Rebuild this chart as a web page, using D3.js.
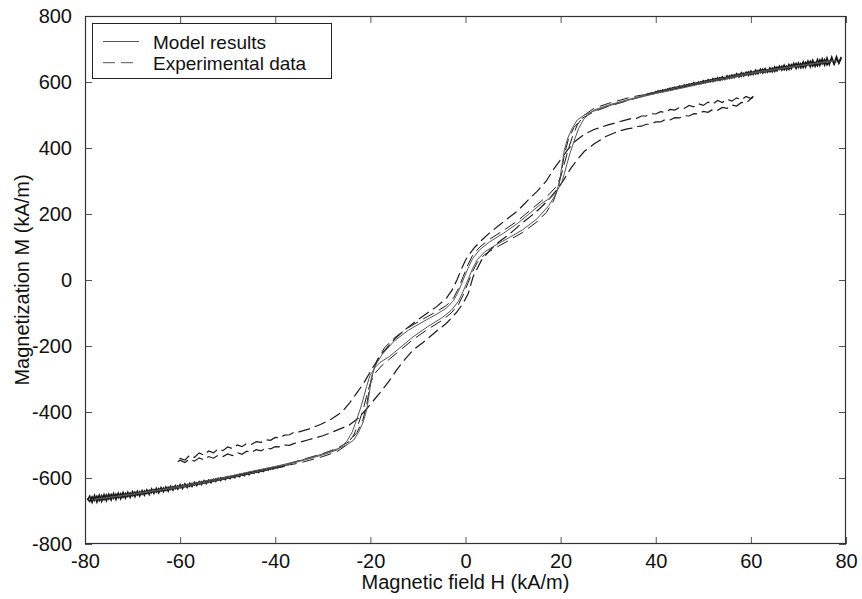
<!DOCTYPE html>
<html><head><meta charset="utf-8">
<script src="https://cdn.jsdelivr.net/npm/d3@7"></script>
<style>
html,body{margin:0;padding:0;background:#fff;}
svg text{font-family:"Liberation Sans",Arial,Helvetica,sans-serif;fill:#111;}
</style></head>
<body>
<svg id="chart" width="862" height="599"></svg>
<script>
// ---- tick labels ----
const xTicks = [-80,-60,-40,-20,0,20,40,60,80];
const yTicks = [-800,-600,-400,-200,0,200,400,600,800];

// ---- Model results (solid) ----
const modelDesc = [[78,665],[70,650],[60,628],[50,600],[45,585],[40,568],[35,550],[30,530],[27,515],[25,490],[23.8,460],[22.9,424],[22,385],[21.3,350],[20.8,323],[20.1,290],[19,265],[18,250],[16,232],[14,208],[11,172],[8,142],[5,115],[3,92],[1.5,65],[0.5,35],[-0.5,0],[-1.5,-35],[-2.5,-62],[-4,-85],[-6,-103],[-9,-127],[-12,-152],[-15,-185],[-17.5,-225],[-19,-260],[-19.8,-300],[-20.3,-350],[-20.8,-395],[-21.5,-430],[-22.5,-462],[-23.5,-485],[-25,-500],[-27,-512],[-30,-527],[-35,-548],[-40,-565],[-45,-580],[-50,-596],[-55,-610],[-60,-625],[-65,-637],[-70,-648],[-78,-665]];
const modelAsc = [[-78,-665],[-70,-650],[-60,-628],[-50,-600],[-45,-585],[-40,-568],[-35,-550],[-30,-530],[-27,-515],[-25,-490],[-23.8,-460],[-22.9,-424],[-22,-385],[-21.3,-350],[-20.8,-323],[-20.1,-290],[-19,-265],[-18,-250],[-16,-232],[-14,-208],[-11,-172],[-8,-142],[-5,-115],[-3,-92],[-1.5,-65],[-0.5,-35],[0.5,0],[1.5,35],[2.5,62],[4,85],[6,103],[9,127],[12,152],[15,185],[17.5,225],[19,260],[19.8,300],[20.3,350],[20.8,395],[21.5,430],[22.5,462],[23.5,485],[25,500],[27,512],[30,527],[35,548],[40,565],[45,580],[50,596],[55,610],[60,625],[65,637],[70,648],[78,665]];

// ---- Experimental data, major loop (noisy tails + dashed middle) ----
const majorDescHigh = [[79,676],[78.5,658],[78,669],[77.5,654],[77,670],[76.5,663],[76,652],[75.5,668],[75,655],[74.5,667],[74,649],[73.5,659],[73,648],[72.5,663],[72,651],[71.5,660],[71,644],[70.5,656],[70,644],[69.5,656],[69,646],[68.5,653],[68,638],[67.5,648],[67,637],[66.5,648],[66,638],[65.5,645],[65,632],[64.5,642],[64,631],[63.5,637],[63,629],[62.5,639],[62,628],[61.5,635],[61,624],[60.5,631],[60,622],[59.5,631],[59,621],[58.5,627],[58,617],[57.5,624],[57,617],[56.5,622],[56,612],[55.5,619],[55,610],[54.5,614],[54,607],[53.5,613],[53,605],[52.5,610],[52,601],[51.5,607],[51,601],[50.5,604],[50,597],[49.5,601],[49,594],[48.5,597],[48,591],[47.5,595],[47,589],[46.5,592],[46,585],[45.5,588],[45,582],[44.5,585],[44,580],[43.5,582],[43,576],[42.5,579],[42,573],[41.5,576],[41,570],[40.5,573],[40,568],[39,566],[38,562]];
const majorDescMid = [[37,560],[35,555],[30,535],[27,520],[25,500],[23.5,470],[22.5,435],[21.5,392],[20.8,352],[20,312],[19,282],[17.5,258],[16,240],[14,216],[11,180],[8,150],[5,123],[3,100],[1.5,75],[0.5,46],[-0.5,10],[-1.5,-26],[-2.5,-54],[-4,-77],[-6,-95],[-9,-119],[-12,-144],[-15,-176],[-17,-205],[-18.5,-240],[-19.5,-280],[-20.2,-330],[-20.8,-380],[-21.6,-425],[-22.8,-462],[-24.5,-490],[-27,-510],[-30,-526],[-34,-543],[-37,-556]];
const majorDescLow = [[-38,-563],[-38.5,-566],[-39,-564],[-39.5,-569],[-40,-567],[-40.5,-573],[-41,-570],[-41.5,-576],[-42,-573],[-42.5,-580],[-43,-576],[-43.5,-583],[-44,-579],[-44.5,-586],[-45,-582],[-45.5,-590],[-46,-585],[-46.5,-593],[-47,-588],[-47.5,-596],[-48,-591],[-48.5,-599],[-49,-594],[-49.5,-602],[-50,-596],[-50.5,-605],[-51,-599],[-51.5,-608],[-52,-601],[-52.5,-611],[-53,-604],[-53.5,-614],[-54,-606],[-54.5,-617],[-55,-608],[-55.5,-620],[-56,-611],[-56.5,-623],[-57,-613],[-57.5,-626],[-58,-616],[-58.5,-629],[-59,-618],[-59.5,-632],[-60,-620],[-60.5,-634],[-61,-623],[-61.5,-637],[-62,-625],[-62.5,-640],[-63,-627],[-63.5,-642],[-64,-629],[-64.5,-645],[-65,-631],[-65.5,-647],[-66,-633],[-66.5,-650],[-67,-636],[-67.5,-652],[-68,-638],[-68.5,-655],[-69,-640],[-69.5,-657],[-70,-641],[-70.5,-659],[-71,-643],[-71.5,-661],[-72,-644],[-72.5,-663],[-73,-646],[-73.5,-665],[-74,-647],[-74.5,-667],[-75,-649],[-75.5,-669],[-76,-650],[-76.5,-671],[-77,-652],[-77.5,-673],[-78,-653],[-78.5,-674],[-79,-655],[-79.5,-667]];
const majorAscLow = [[-79.5,-662],[-79,-671],[-78.5,-657],[-78,-668],[-77.5,-655],[-77,-669],[-76.5,-653],[-76,-666],[-75.5,-651],[-75,-664],[-74.5,-650],[-74,-662],[-73.5,-649],[-73,-660],[-72.5,-647],[-72,-659],[-71.5,-646],[-71,-656],[-70.5,-645],[-70,-654],[-69.5,-643],[-69,-652],[-68.5,-641],[-68,-650],[-67.5,-639],[-67,-647],[-66.5,-637],[-66,-645],[-65.5,-635],[-65,-643],[-64.5,-632],[-64,-640],[-63.5,-630],[-63,-638],[-62.5,-628],[-62,-635],[-61.5,-626],[-61,-632],[-60.5,-624],[-60,-630],[-59.5,-621],[-59,-627],[-58.5,-619],[-58,-625],[-57.5,-616],[-57,-622],[-56.5,-614],[-56,-619],[-55.5,-611],[-55,-616],[-54.5,-609],[-54,-613],[-53.5,-606],[-53,-610],[-52.5,-603],[-52,-607],[-51.5,-600],[-51,-604],[-50.5,-598],[-50,-601],[-49.5,-595],[-49,-598],[-48.5,-592],[-48,-595],[-47.5,-589],[-47,-592],[-46.5,-586],[-46,-589],[-45.5,-583],[-45,-586],[-44.5,-580],[-44,-583],[-43.5,-577],[-43,-580],[-42.5,-574],[-42,-577],[-41.5,-571],[-41,-573],[-40.5,-568],[-40,-570],[-39.5,-565],[-39,-567],[-38,-562]];
const majorAscMid = [[-37,-560],[-35,-555],[-30,-535],[-27,-520],[-25,-500],[-23.5,-470],[-22.5,-435],[-21.5,-392],[-20.8,-352],[-20,-312],[-19,-282],[-17.5,-258],[-16,-240],[-14,-216],[-11,-180],[-8,-150],[-5,-123],[-3,-100],[-1.5,-75],[-0.5,-46],[0.5,-10],[1.5,26],[2.5,54],[4,77],[6,95],[9,119],[12,144],[15,176],[17,205],[18.5,240],[19.5,280],[20.2,330],[20.8,380],[21.6,425],[22.8,462],[24.5,490],[27,510],[30,526],[34,543],[37,556]];
const majorAscHigh = [[38,561],[39,566],[39.5,565],[40,571],[40.5,569],[41,574],[41.5,571],[42,577],[42.5,575],[43,581],[43.5,578],[44,584],[44.5,581],[45,588],[45.5,584],[46,591],[46.5,587],[47,594],[47.5,590],[48,598],[48.5,593],[49,600],[49.5,595],[50,604],[50.5,598],[51,607],[51.5,601],[52,610],[52.5,604],[53,613],[53.5,605],[54,616],[54.5,608],[55,619],[55.5,611],[56,621],[56.5,613],[57,625],[57.5,615],[58,628],[58.5,618],[59,630],[59.5,620],[60,633],[60.5,623],[61,636],[61.5,625],[62,639],[62.5,627],[63,641],[63.5,630],[64,643],[64.5,631],[65,646],[65.5,634],[66,648],[66.5,636],[67,651],[67.5,637],[68,653],[68.5,640],[69,656],[69.5,641],[70,658],[70.5,643],[71,661],[71.5,645],[72,663],[72.5,646],[73,666],[73.5,648],[74,668],[74.5,650],[75,670],[75.5,651],[76,673],[76.5,653],[77,675],[77.5,655],[78,677],[78.5,657],[79,672]];

// ---- Experimental data, minor loop (dashed) ----
const minorDesc = [[60.5,557],[60,550],[59,556],[58,546],[57,552],[56,542],[55,548],[54,538],[53,544],[52,533],[51,539],[50,529],[49,534],[48,525],[47,529],[46,520],[45,523],[44,515],[43,517],[42,508],[41,510],[40,503],[39,504],[38,497],[37,497],[36,490],[35,490],
[33,482],[30,470],[27,456],[25,442],[23,420],[21.5,395],[20,365],[18.5,335],[17,300],[15,268],[13,240],[11,210],[9,188],[7,165],[5,142],[3.5,122],[2,100],[0.8,78],[0,60],[-0.8,35],[-1.8,0],[-2.8,-30],[-4,-55],[-6,-80],[-8,-100],[-10,-120],[-12.5,-148],[-15,-180],[-17.5,-222],[-19.5,-265],[-21.5,-315],[-23,-345],[-24.5,-375],[-26,-400],[-28,-420],[-30.5,-438],[-33,-452],[-35,-460],
[-36,-461],[-37,-469],[-38,-470],[-39,-478],[-40,-477],[-41,-486],[-42,-484],[-43,-492],[-44,-490],[-45,-498],[-46,-495],[-47,-505],[-48,-500],[-49,-511],[-50,-506],[-51,-517],[-52,-512],[-53,-524],[-54,-518],[-55,-531],[-56,-524],[-57,-538],[-58,-531],[-59,-546],[-60,-541],[-60.5,-551]];
const minorAsc = [[-60.5,-551],[-60,-546],[-59,-553],[-58,-543],[-57,-549],[-56,-539],[-55,-545],[-54,-535],[-53,-540],[-52,-531],[-51,-535],[-50,-527],[-49,-532],[-48,-523],[-47,-528],[-46,-519],[-45,-523],[-44,-514],[-43,-518],[-42,-509],[-41,-512],[-40,-505],[-39,-506],[-38,-500],[-37,-501],[-36,-495],[-35,-492],
[-33,-484],[-30,-472],[-27,-455],[-24.5,-440],[-22.5,-418],[-21,-394],[-19.5,-368],[-18,-342],[-16,-305],[-14.5,-273],[-13,-245],[-11,-212],[-9,-190],[-7.5,-172],[-5.5,-148],[-4,-131],[-2,-100],[-0.5,-71],[0.6,-40],[1.6,10],[3.4,61],[5.2,91],[7,115],[9.4,141],[11.5,168],[13.6,192],[15.5,215],[17.4,242],[19,270],[20.5,300],[22,335],[23.5,365],[25,390],[27,412],[29.5,435],[32,450],[34,458],
[35,460],[36,465],[37,466],[38,472],[39,472],[40,479],[41,479],[42,486],[43,485],[44,492],[45,491],[46,498],[47,497],[48,504],[49,503],[50,511],[51,508],[52,517],[53,514],[54,523],[55,520],[56,530],[57,527],[58,538],[59,536],[60,549],[60.5,554]];

const legendItems = ["Model results","Experimental data"];

// ---- layout ----
const L = 85, R = 846, T = 16, B = 544;
const svg = d3.select("#chart");
const x = d3.scaleLinear().domain([-80,80]).range([L,R]);
const y = d3.scaleLinear().domain([-800,800]).range([B,T]);
const tickLen = 7;
const fs = 20;
const fmt = d => String(d);

svg.append("rect").attr("x",L).attr("y",T).attr("width",R-L).attr("height",B-T).attr("fill","#fff");

const gx = svg.append("g").attr("transform",`translate(0,${B})`)
  .call(d3.axisBottom(x).tickValues(xTicks).tickSize(-tickLen).tickPadding(tickLen+3).tickFormat(fmt));
const gxt = svg.append("g").attr("transform",`translate(0,${T})`)
  .call(d3.axisTop(x).tickValues(xTicks).tickSize(-tickLen).tickFormat(""));
const gy = svg.append("g").attr("transform",`translate(${L},0)`)
  .call(d3.axisLeft(y).tickValues(yTicks).tickSize(-tickLen).tickPadding(tickLen+6).tickFormat(fmt));
const gyr = svg.append("g").attr("transform",`translate(${R},0)`)
  .call(d3.axisRight(y).tickValues(yTicks).tickSize(-tickLen).tickFormat(""));
[gx,gxt,gy,gyr].forEach(g=>{
  g.select(".domain").remove();
  g.selectAll(".tick line").attr("stroke","#555").attr("stroke-width",1);
  g.selectAll(".tick text").attr("font-size",fs).attr("fill","#111")
   .attr("font-family","Liberation Sans, Arial, sans-serif");
});

// data lines
const line = d3.line().x(d=>x(d[0])).y(d=>y(d[1]));
const plot = svg.append("g");
const expColor = "#1a1a1a";
// noisy saturated tails of the major loop (dense noise reads as a solid band)
[majorDescHigh,majorDescLow,majorAscLow,majorAscHigh].forEach(s=>{
  plot.append("path").datum(s).attr("d",line).attr("fill","none")
    .attr("stroke",expColor).attr("stroke-width",1.6);
});
// dashed middle parts, joined to their tails
[[majorDescHigh,majorDescMid,majorDescLow],[majorAscLow,majorAscMid,majorAscHigh]].forEach(([a,m,b])=>{
  plot.append("path").datum([a[a.length-1],...m,b[0]]).attr("d",line).attr("fill","none")
    .attr("stroke",expColor).attr("stroke-width",1).attr("stroke-dasharray","12,6");
});
[minorDesc,minorAsc].forEach(s=>{
  plot.append("path").datum(s).attr("d",line).attr("fill","none")
    .attr("stroke",expColor).attr("stroke-width",1.2).attr("stroke-dasharray","12,5");
});
[modelDesc,modelAsc].forEach(s=>{
  plot.append("path").datum(s).attr("d",line).attr("fill","none")
    .attr("stroke","#555").attr("stroke-width",1);
});

// frame
svg.append("rect").attr("x",L+0.5).attr("y",T+0.5).attr("width",R-L-1).attr("height",B-T-1)
  .attr("fill","none").attr("stroke","#333").attr("stroke-width",1.2);

// axis titles
svg.append("text").attr("x",(L+R)/2).attr("y",589).attr("text-anchor","middle")
  .attr("font-size",fs).text("Magnetic field H (kA/m)");
svg.append("text").attr("transform",`translate(29,${(T+B)/2}) rotate(-90)`).attr("text-anchor","middle")
  .attr("font-size",fs).text("Magnetization M (kA/m)");

// legend
const lg = svg.append("g");
lg.append("rect").attr("x",92.5).attr("y",23.5).attr("width",239).attr("height",55)
  .attr("fill","#fff").attr("stroke","#222").attr("stroke-width",1);
const dashes = [null,"12,6"];
legendItems.forEach((t,i)=>{
  const yy = 41.5 + i*21.2;
  lg.append("line").attr("x1",103).attr("x2",139).attr("y1",yy).attr("y2",yy)
    .attr("stroke","#555").attr("stroke-width",1).attr("stroke-dasharray",dashes[i]);
  lg.append("text").attr("x",153).attr("y",yy+7).attr("font-size",19).text(t);
});
</script>
</body></html>
